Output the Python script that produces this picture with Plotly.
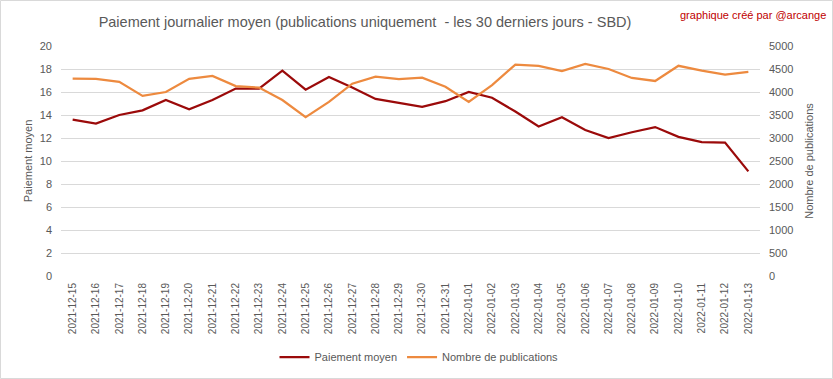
import plotly.graph_objects as go

dates = ["2021-12-15","2021-12-16","2021-12-17","2021-12-18","2021-12-19","2021-12-20",
         "2021-12-21","2021-12-22","2021-12-23","2021-12-24","2021-12-25","2021-12-26",
         "2021-12-27","2021-12-28","2021-12-29","2021-12-30","2021-12-31","2022-01-01",
         "2022-01-02","2022-01-03","2022-01-04","2022-01-05","2022-01-06","2022-01-07",
         "2022-01-08","2022-01-09","2022-01-10","2022-01-11","2022-01-12","2022-01-13"]

paiement_moyen = [13.6, 13.25, 14.0, 14.4, 15.3, 14.5, 15.3, 16.3, 16.3, 17.85, 16.2, 17.3,
                  16.4, 15.4, 15.05, 14.7, 15.2, 16.0, 15.5, 14.3, 13.0, 13.8, 12.7, 12.0,
                  12.5, 12.95, 12.1, 11.65, 11.6, 9.1]

nombre_publications = [4290, 4285, 4220, 3915, 4000, 4285, 4350, 4130, 4095, 3825, 3455, 3785,
                       4180, 4335, 4280, 4310, 4115, 3785, 4150, 4595, 4570, 4455, 4610, 4500,
                       4305, 4240, 4570, 4465, 4380, 4435]

left_ticks = list(range(0, 21, 2))
right_ticks = list(range(0, 5001, 500))

RED = "#9B0A0A"
ORANGE = "#ED8A3F"
GRAY = "#595959"
FONT = "Liberation Sans"

fig = go.Figure()
fig.add_trace(go.Scatter(x=dates, y=paiement_moyen, name="Paiement moyen", mode="lines",
                         line=dict(color=RED, width=2.25), yaxis="y"))
fig.add_trace(go.Scatter(x=dates, y=nombre_publications, name="Nombre de publications", mode="lines",
                         line=dict(color=ORANGE, width=2.25), yaxis="y2"))

W, H = 833, 379
L, R, T, B = 61, 760, 46, 276

fig.update_layout(
    width=W, height=H,
    margin=dict(l=L, r=W - R, t=T, b=H - B, autoexpand=False),
    paper_bgcolor="white", plot_bgcolor="white",
    font=dict(family=FONT, color=GRAY, size=11),
    title=dict(text="Paiement journalier moyen (publications uniquement  - les 30 derniers jours - SBD)",
               x=365 / W, xref="container", xanchor="center",
               y=1 - 22 / H, yref="container", yanchor="middle",
               font=dict(size=14.5, color=GRAY, family=FONT)),
    xaxis=dict(type="category", range=[-0.5, len(dates) - 0.5], tickangle=-90,
               tickfont=dict(size=10, color=GRAY), showgrid=False, showline=False,
               ticks="", ticklabelstandoff=4, automargin=False),
    yaxis=dict(range=[0, 20], tickvals=left_ticks, showgrid=True, gridcolor="#D9D9D9",
               gridwidth=1, zeroline=False, showline=False, ticks="",
               tickfont=dict(size=11, color=GRAY), automargin=False,
               title=dict(text="Paiement moyen", font=dict(size=11, color=GRAY), standoff=4),
               ticklabelstandoff=8),
    yaxis2=dict(range=[0, 5000], tickvals=right_ticks, overlaying="y", side="right",
                showgrid=False, zeroline=False, showline=False, ticks="",
                tickfont=dict(size=11, color=GRAY), automargin=False,
                title=dict(text="Nombre de publications", font=dict(size=11, color=GRAY), standoff=12),
                ticklabelstandoff=8),
    legend=dict(orientation="h", x=419 / W, xref="container", xanchor="center",
                y=1 - 357 / H, yref="container", yanchor="middle",
                font=dict(size=11, color=GRAY), itemwidth=30),
    showlegend=True,
)

fig.add_annotation(text="graphique créé par @arcange", xref="paper", yref="paper",
                   x=(828 - L) / (R - L), y=(B - 15) / (B - T), xanchor="right", yanchor="middle",
                   showarrow=False, font=dict(size=11, color="#C00000", family=FONT))

# thin outer chart border
fig.add_shape(type="rect", xref="paper", yref="paper",
              x0=(0.5 - L) / (R - L), x1=(W - 0.5 - L) / (R - L),
              y0=(B - (H - 0.5)) / (B - T), y1=(B - 0.5) / (B - T),
              line=dict(color="#D9D9D9", width=1), fillcolor="rgba(0,0,0,0)", layer="below")

fig.write_html("out.html", config={"displayModeBar": False},
               post_script="document.body.style.margin='0';document.body.style.overflow='hidden';")
